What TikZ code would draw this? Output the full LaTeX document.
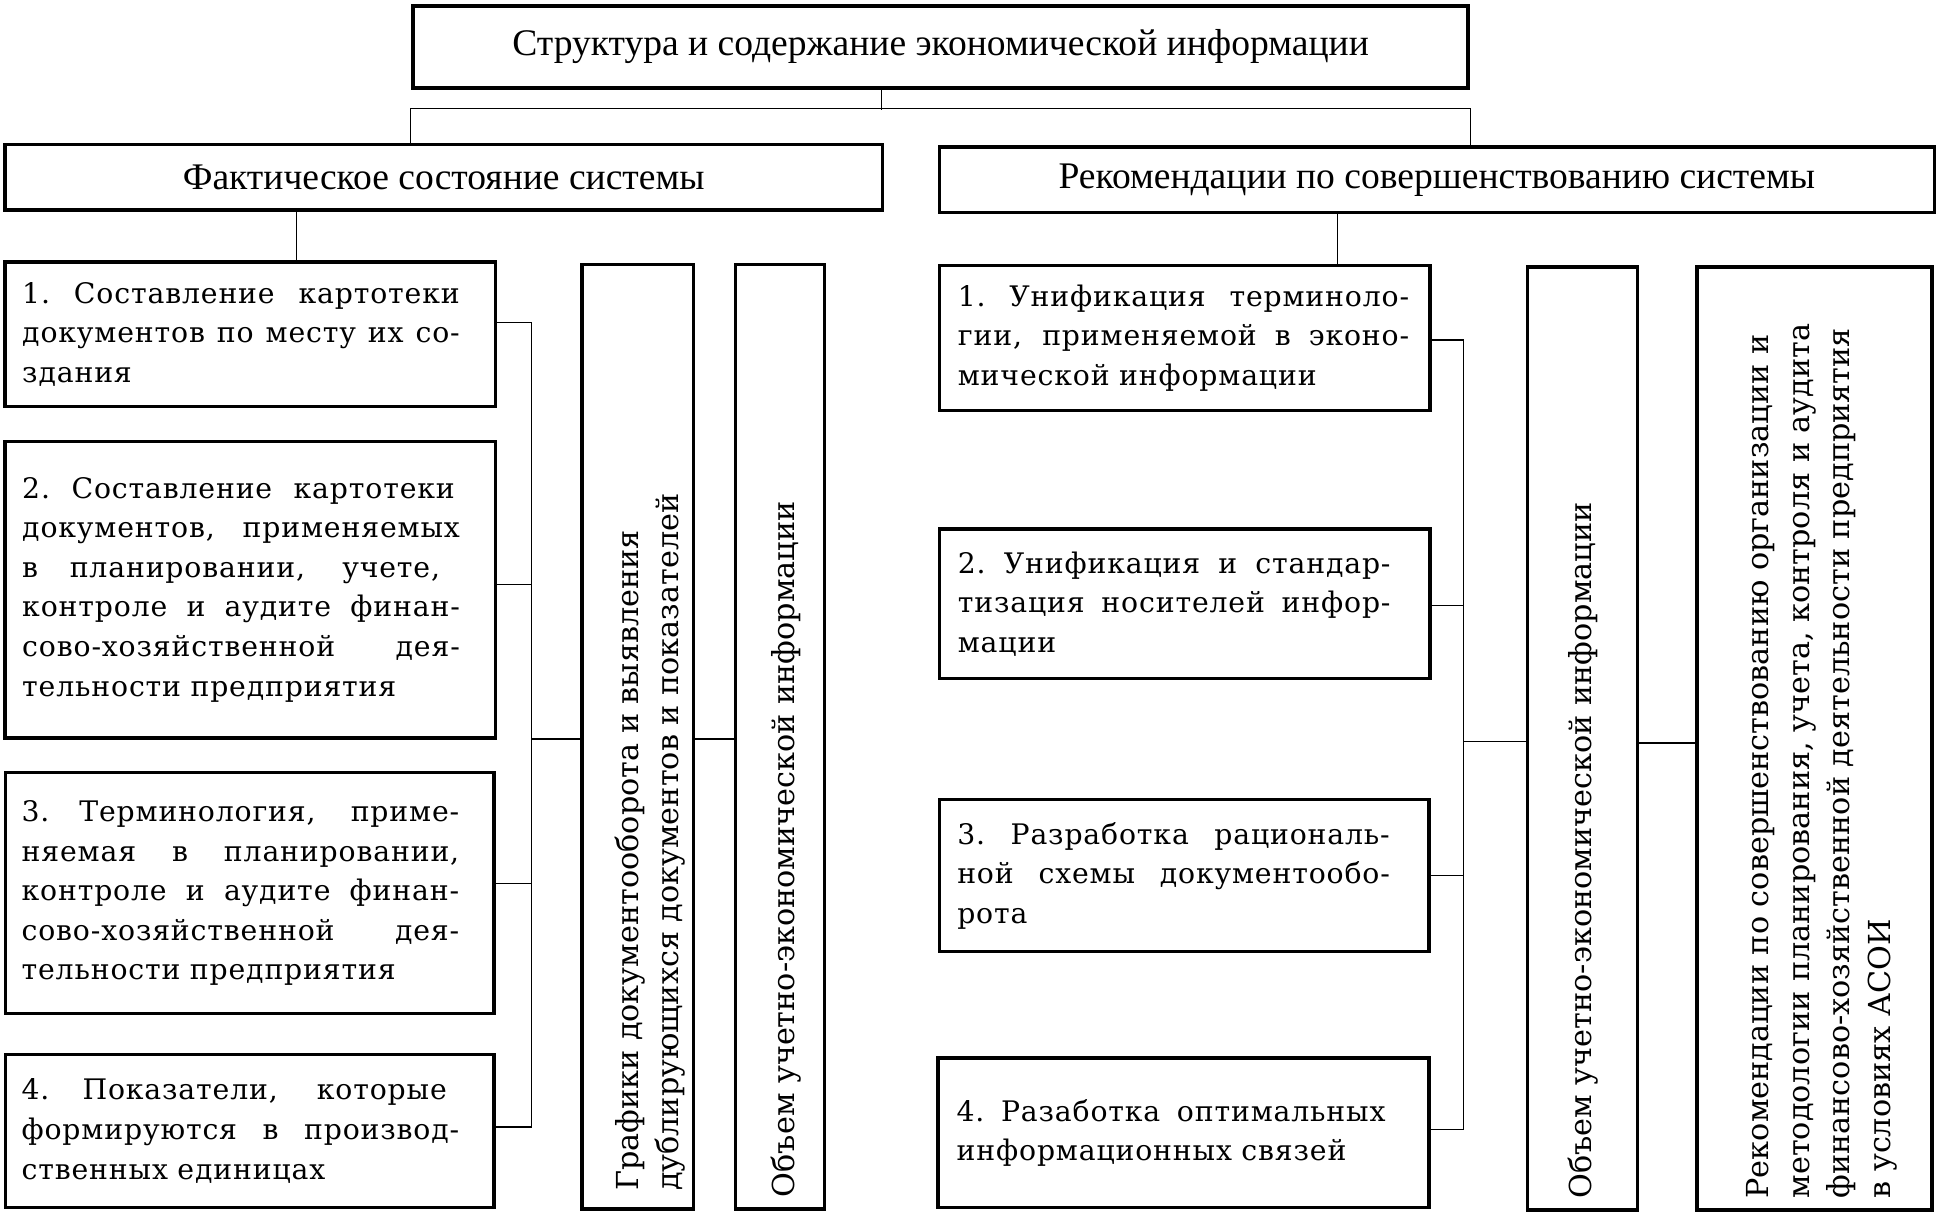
\documentclass[tikz,border=0pt]{standalone}
\usepackage{fontspec}
\setmainfont{DejaVu Serif}
\newfontfamily\bodyfont[LetterSpace=3]{DejaVu Serif}
\newfontfamily\headfont{Liberation Serif}
\newcommand\jl[2][177pt]{\leavevmode\hbox to #1{\spaceskip=.32em plus 1fil\xspaceskip=\spaceskip #2}}
\begin{document}
\begin{tikzpicture}[x=0.5pt,y=-0.5pt,
  box/.style={draw, line width=1.4pt, inner sep=0pt},
  head/.style={box, font=\headfont\fontsize{15.2}{18}\selectfont},
  body/.style={font=\bodyfont\fontsize{11.45}{16}\selectfont, align=left},
  vtext/.style={rotate=90, anchor=west, inner sep=0pt, align=left, font=\fontsize{12.25}{16.5}\selectfont},
  conn/.style={line width=0.6pt}]
\useasboundingbox (0,0) rectangle (1568,985.5);

% top and headings
\node[head, line width=1.7pt, minimum width=427pt, minimum height=33pt] (T) at (761,38) {Структура и содержание экономической информации};
\node[head, minimum width=355pt, minimum height=26.5pt] (LH) at (359,143.5) {Фактическое состояние системы};
\node[head, minimum width=402.5pt, minimum height=26.5pt] (RH) at (1162.5,145.5) {Рекомендации по совершенствованию системы};

% left column
\node[box, body, minimum width=198.5pt, minimum height=58.5pt, text width=184.5pt] (L1) at (202.5,270.5)
  {\jl{1. Составление картотеки}\\\jl{документов по месту их со-}\\здания};
\node[box, body, minimum width=198.5pt, minimum height=120pt, text width=184.5pt] (L2) at (202.5,477)
  {\jl[175pt]{2. Составление картотеки}\\\jl{документов, применяемых}\\\jl[169pt]{в планировании, учете,}\\\jl{контроле и аудите финан-}\\\jl{сово-хозяйственной дея-}\\тельности предприятия};
\node[box, body, minimum width=197.5pt, minimum height=97.5pt, text width=184.5pt] (L3) at (202,722.5)
  {\jl{3. Терминология, приме-}\\\jl{няемая в планировании,}\\\jl{контроле и аудите финан-}\\\jl{сово-хозяйственной дея-}\\тельности предприятия};
\node[box, body, minimum width=197.5pt, minimum height=62pt, text width=184.5pt] (L4) at (202,915)
  {\jl[172pt]{4. Показатели, которые}\\\jl{формируются в производ-}\\ственных единицах};

\node[box, minimum width=45pt, minimum height=382pt] (G) at (516,596) {};
\node[box, minimum width=36pt, minimum height=382pt] (O) at (631,596) {};
\node[vtext] (Gt) at (526,964) {Графики документооборота и выявления\\дублирующихся документов и показателей};
\node[vtext] (Ot) at (636,969) {Объем учетно-экономической информации};

% right column
\node[box, body, minimum width=198.5pt, minimum height=58.5pt, text width=183.5pt] (R1) at (958.5,273.5)
  {\jl[182.5pt]{1. Унификация терминоло-}\\\jl[182.5pt]{гии, применяемой в эконо-}\\мической информации};
\node[box, body, minimum width=198.5pt, minimum height=60.5pt, text width=183.5pt] (R2) at (958.5,488.5)
  {\jl[175pt]{2. Унификация и стандар-}\\\jl[175pt]{тизация носителей инфор-}\\мации};
\node[box, body, minimum width=198pt, minimum height=61.5pt, text width=183.5pt] (R3) at (958,708.5)
  {\jl[175pt]{3. Разработка рациональ-}\\\jl[175pt]{ной схемы документообо-}\\рота};
\node[box, body, minimum width=198.5pt, minimum height=60.5pt, text width=183.5pt] (R4) at (957.5,916.5)
  {\jl[173.5pt]{4. Разаботка оптимальных}\\информационных связей};

\node[box, minimum width=44.5pt, minimum height=381.5pt] (O2) at (1280.5,597.5) {};
\node[box, minimum width=95pt, minimum height=381.5pt] (Rec) at (1468,597.5) {};
\node[vtext] (O2t) at (1281,970) {Объем учетно-экономической информации};
\node[vtext] (Rt) at (1474,970) {Рекомендации по совершенствованию организации и\\методологии планирования, учета, контроля и аудита\\финансово-хозяйственной деятельности предприятия\\в условиях АСОИ};

% connectors
\coordinate (j) at (713,89);
\draw[conn] (T.south -| j) -- (j);
\draw[conn] (LH.north -| T.west) -- ++(0,-28) -| (RH.north -| T.east);
\coordinate (a) at (240,170);
\draw[conn] (LH.south -| a) -- (L1.north -| a);
\coordinate (b) at (1082,172);
\draw[conn] (RH.south -| b) -- (R1.north -| b);

\coordinate (lb) at (430,598);
\draw[conn] ([yshift=4.75pt]L1.east) -| (lb) |- ([yshift=1.5pt]L4.east);
\draw[conn] ([yshift=2pt]L2.east) -- ([yshift=2pt]L2.east -| lb);
\draw[conn] ([yshift=3.75pt]L3.east) -- ([yshift=3.75pt]L3.east -| lb);
\draw[conn] (lb) -- (lb -| G.west);
\draw[conn] (lb -| G.east) -- (lb -| O.west);

\coordinate (rb) at (1184,600);
\draw[conn] ([yshift=-0.75pt]R1.east) -| (rb) |- ([yshift=1.25pt]R4.east);
\draw[conn] ([yshift=-0.75pt]R2.east) -- ([yshift=-0.75pt]R2.east -| rb);
\draw[conn] (R3.east) -- (R3.east -| rb);
\draw[conn] (rb) -- (rb -| O2.west);
\draw[conn] ([yshift=-0.5pt]rb -| O2.east) -- ([yshift=-0.5pt]rb -| Rec.west);
\end{tikzpicture}
\end{document}
